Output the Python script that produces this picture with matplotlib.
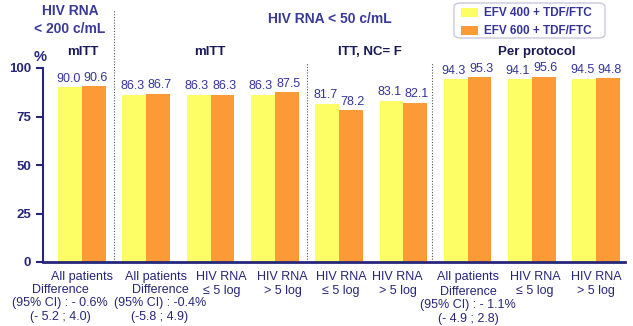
import numpy as np
import matplotlib
matplotlib.use("Agg")
import matplotlib.pyplot as plt
from matplotlib.patches import FancyBboxPatch, Rectangle

plt.rcParams['font.family'] = ['Liberation Sans', 'DejaVu Sans']

# ------------------------------------------
# DATA
# ------------------------------------------
tick_labels = ["All patients", "All patients", "HIV RNA\n≤ 5 log", "HIV RNA\n> 5 log",
               "HIV RNA\n≤ 5 log", "HIV RNA\n> 5 log",
               "All patients", "HIV RNA\n≤ 5 log", "HIV RNA\n> 5 log"]
efv400 = [90.0, 86.3, 86.3, 86.3, 81.7, 83.1, 94.3, 94.1, 94.5]
efv600 = [90.6, 86.7, 86.3, 87.5, 78.2, 82.1, 95.3, 95.6, 94.8]
series_names = ["EFV 400 + TDF/FTC", "EFV 600 + TDF/FTC"]
section_titles = ["mITT", "mITT", "ITT, NC= F", "Per protocol"]
differences = ["Difference\n(95% CI) : - 0.6%\n(- 5.2 ; 4.0)",
               "Difference\n(95% CI) : -0.4%\n(-5.8 ; 4.9)",
               "Difference\n(95% CI) : - 1.1%\n(- 4.9 ; 2.8)"]

NAVY = "#26267a"
BLUE = "#34349c"
YELLOW = "#fdfd66"
ORANGE = "#fb9a36"

W, H = 633, 326
fig = plt.figure(figsize=(W / 100, H / 100), dpi=100)
fig.patch.set_facecolor("white")


def fx(px):
    return px / W


def fy(py):
    return 1 - py / H


ax = fig.add_axes([fx(43), fy(262), fx(625) - fx(43), fy(68) - fy(262)])
x = np.arange(len(efv400))
bw = 0.37
b1 = ax.bar(x - bw / 2, efv400, bw, color=YELLOW, zorder=2)
b2 = ax.bar(x + bw / 2, efv600, bw, color=ORANGE, zorder=2)

for bars, vals, dx in ((b1, efv400, -0.03), (b2, efv600, 0.03)):
    for r, v in zip(bars, vals):
        ax.text(r.get_x() + r.get_width() / 2 + dx, v + 1.3, f"{v:.1f}", ha="center",
                va="bottom", fontsize=9, color=BLUE, clip_on=False)

ax.set_xlim(-0.607, 8.45)
ax.set_ylim(0, 100)
ax.set_yticks([0, 25, 50, 75, 100])
ax.set_xticks([])
for s in ("top", "right"):
    ax.spines[s].set_visible(False)
ax.spines["left"].set_color(NAVY)
ax.spines["left"].set_linewidth(1.5)
ax.spines["bottom"].set_color(NAVY)
ax.spines["bottom"].set_linewidth(2)
ax.tick_params(axis="y", colors=NAVY, length=5, width=1.5, labelsize=9.5)
for lab in ax.get_yticklabels():
    lab.set_fontweight("bold")

# separators
for sx, top in ((0.5, 10), (3.5, 62), (5.45, 62)):
    ax.plot([sx, sx], [0, (262 - top) / 1.94], ls=(0, (1, 1.5)), color="#555555",
            lw=0.8, clip_on=False, zorder=1)

# x labels below axis (small nudges as in the slide)
nudge = [0, 0.15, 0.17, 0.12, 0.03, -0.09, 0, 0.05, 0]
for i, lab in enumerate(tick_labels):
    ax.text(i + nudge[i], -4.5, lab, ha="center", va="top", fontsize=9, color=NAVY,
            linespacing=1.3, clip_on=False)

# difference notes
for px, py, txt in ((60, 284, differences[0]), (160, 284, differences[1]),
                    (468, 286, differences[2])):
    fig.text(fx(px), fy(py), txt, ha="center", va="top", fontsize=9, color=NAVY,
             linespacing=1.15)

# headers
fig.text(fx(70), fy(20), "HIV RNA\n< 200 c/mL", ha="center", va="center",
         fontsize=10, fontweight="bold", color="#3a3a9a", linespacing=1.3)
fig.text(fx(330), fy(19), "HIV RNA < 50 c/mL", ha="center", va="center",
         fontsize=10, fontweight="bold", color="#3a3a9a")
for px, t in zip((83, 210, 370, 537), section_titles):
    fig.text(fx(px), fy(52), t, ha="center", va="center", fontsize=9.5,
             fontweight="bold", color="#1a1a55")
fig.text(fx(40), fy(57), "%", ha="center", va="center", fontsize=10.5,
         fontweight="bold", color=NAVY)

# legend
fig.patches.append(FancyBboxPatch((fx(454), fy(38)), fx(151), fy(3) - fy(38),
                                  boxstyle="round,pad=0,rounding_size=0.012",
                                  transform=fig.transFigure, facecolor="white",
                                  edgecolor="#c8c8dc", lw=1))
for i, (name, c) in enumerate(zip(series_names, (YELLOW, ORANGE))):
    yc = 12.5 + i * 18
    fig.patches.append(Rectangle((fx(461), fy(yc + 4.5)), fx(17), fy(yc - 4.5) - fy(yc + 4.5),
                                 transform=fig.transFigure, facecolor=c, edgecolor="none"))
    fig.text(fx(484), fy(yc), name, ha="left", va="center", fontsize=8.5,
             fontweight="bold", color=BLUE)

fig.savefig("out.png", dpi=100)
